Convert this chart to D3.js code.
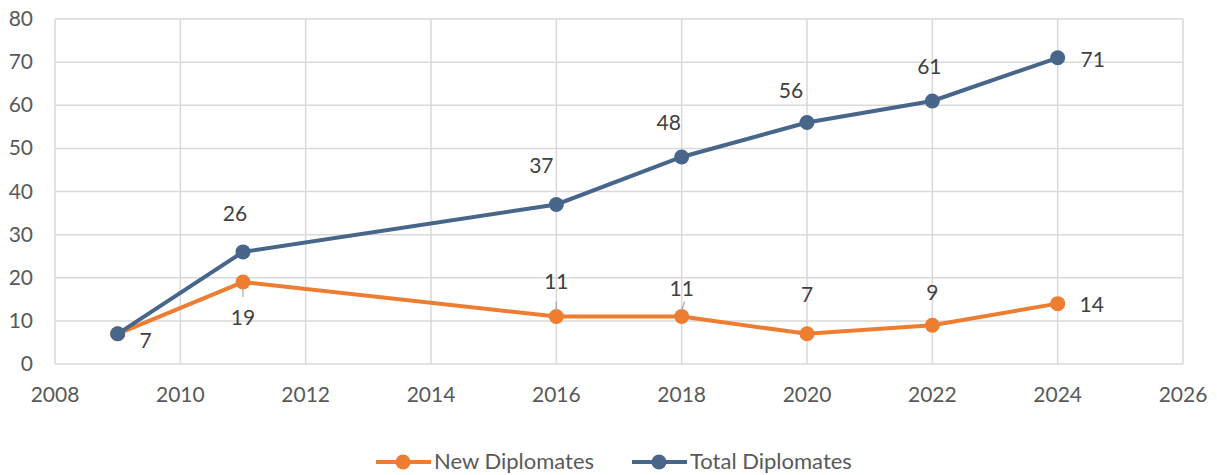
<!DOCTYPE html>
<html>
<head>
<meta charset="utf-8">
<script src="https://cdn.jsdelivr.net/npm/d3@7"></script>
<style>
  body { margin: 0; background: #fff; }
  svg { font-family: Lato, "Open Sans", sans-serif; }
</style>
</head>
<body>
<svg width="1217" height="475"></svg>
<script>
'use strict';

const years = [2009, 2011, 2016, 2018, 2020, 2022, 2024];
const newDiplomates = [7, 19, 11, 11, 7, 9, 14];
const totalDiplomates = [7, 26, 37, 48, 56, 61, 71];
const xTicks = [2008, 2010, 2012, 2014, 2016, 2018, 2020, 2022, 2024, 2026];
const yTicks = [0, 10, 20, 30, 40, 50, 60, 70, 80];

// label offsets (dx, dy) relative to the point, plus leader line flag
const newLabelPos = [null, [0, 43, true], [0, -28, true], [0, -21, true], [0, -32], [0, -25], [34, 8]];
const totalLabelPos = [[28, 14], [-8, -31], [-15, -31], [-13, -27], [-16, -25], [-3, -27], [35, 9]];

const svg = d3.select("svg");
const margin = { left: 55, right: 34, top: 19, bottom: 111 };
const width = 1217, height = 475;

const x = d3.scaleLinear().domain([2008, 2026]).range([margin.left, width - margin.right]);
const y = d3.scaleLinear().domain([0, 80]).range([height - margin.bottom, margin.top]);

const grid = svg.append("g");
grid.selectAll(".gx").data(xTicks).enter().append("line")
  .attr("x1", d => x(d)).attr("x2", d => x(d))
  .attr("y1", y(0)).attr("y2", y(80))
  .attr("stroke", "#d9d9d9").attr("stroke-width", 1.5);
grid.selectAll(".gy").data(yTicks).enter().append("line")
  .attr("x1", x(2008)).attr("x2", x(2026))
  .attr("y1", d => y(d)).attr("y2", d => y(d))
  .attr("stroke", "#d9d9d9").attr("stroke-width", 1.5);

svg.append("g").selectAll("text").data(yTicks).enter().append("text")
  .attr("x", 33).attr("y", d => y(d) + 7)
  .attr("text-anchor", "end")
  .style("font-size", "21px").style("fill", "#595959")
  .text(d => d);

svg.append("g").selectAll("text").data(xTicks).enter().append("text")
  .attr("x", d => x(d)).attr("y", y(0) + 38)
  .attr("text-anchor", "middle")
  .style("font-size", "21px").style("fill", "#595959")
  .text(d => d);

const line = d3.line().x(d => x(d[0])).y(d => y(d[1]));

function drawSeries(values, color, labelPos) {
  const pts = years.map((yr, i) => [yr, values[i]]);
  const g = svg.append("g");
  g.append("path").datum(pts)
    .attr("d", line).attr("fill", "none")
    .attr("stroke", color).attr("stroke-width", 4);
  g.selectAll("circle").data(pts).enter().append("circle")
    .attr("cx", d => x(d[0])).attr("cy", d => y(d[1])).attr("r", 7.5)
    .attr("fill", color);
  pts.forEach((d, i) => {
    const p = labelPos[i];
    if (!p) return;
    const px = x(d[0]), py = y(d[1]);
    if (p[2]) {
      const dir = p[1] > 0 ? 1 : -1;
      g.append("line")
        .attr("x1", px).attr("y1", py + dir * 6)
        .attr("x2", px + (dir < 0 && i === 3 ? 3 : 0)).attr("y2", py + dir * 15)
        .attr("stroke", "#a6a6a6").attr("stroke-width", 1.2);
    }
    g.append("text")
      .attr("x", px + p[0]).attr("y", py + p[1])
      .attr("text-anchor", "middle")
      .style("font-size", "21px").style("fill", "#404040")
      .text(d[1]);
  });
}

drawSeries(newDiplomates, "#ED7D31", newLabelPos);
drawSeries(totalDiplomates, "#47668A", totalLabelPos);

// legend
const legend = [["New Diplomates", "#ED7D31", 376], ["Total Diplomates", "#47668A", 632]];
legend.forEach(([name, color, lx]) => {
  const lg = svg.append("g");
  lg.append("line").attr("x1", lx).attr("x2", lx + 55).attr("y1", 462).attr("y2", 462)
    .attr("stroke", color).attr("stroke-width", 4);
  lg.append("circle").attr("cx", lx + 27).attr("cy", 462).attr("r", 7.5).attr("fill", color);
  lg.append("text").attr("x", lx + 58).attr("y", 469)
    .style("font-size", "22px").style("fill", "#595959").text(name);
});
</script>
</body>
</html>
